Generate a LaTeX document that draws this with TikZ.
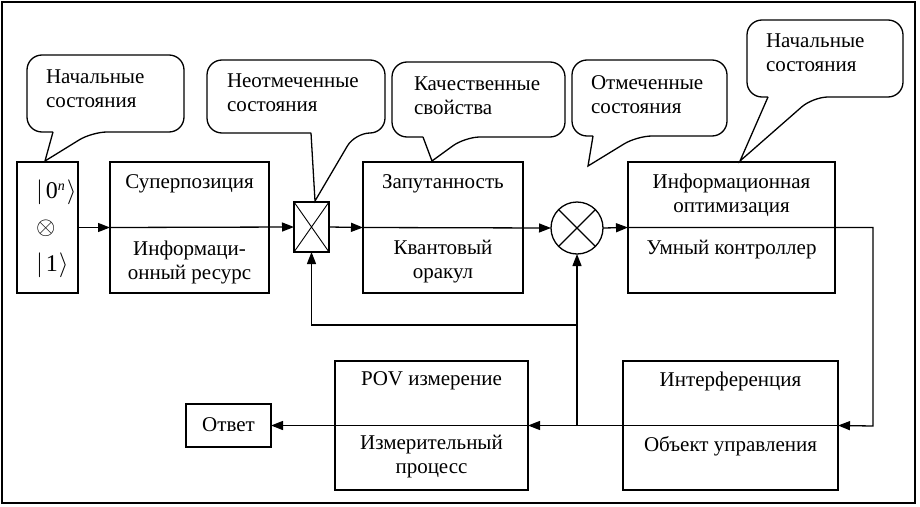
\documentclass[tikz,border=0pt]{standalone}
\usepackage{fontspec}
\setmainfont{Liberation Serif}
\usetikzlibrary{arrows.meta}
\begin{document}
\begin{tikzpicture}[x=1pt,y=-1pt,
  every node/.style={inner sep=0pt,outer sep=0pt},
  txt/.style={font=\fontsize{21}{24}\selectfont,align=center},
  ltxt/.style={font=\fontsize{21}{24}\selectfont,align=left,anchor=west},
  ket/.style={font=\fontsize{24}{24}\selectfont,anchor=west},
  blk/.style={draw,line width=1.3pt,rectangle},
  arr/.style={line width=1.3pt,-{Triangle[length=12pt,width=9pt]}},
  bub/.style={draw,line width=1.3pt,rounded corners=15pt}]
\useasboundingbox (0,0) rectangle (920,506);
\draw[line width=2.6pt] (2,2) rectangle (915,503);

% blocks
\node[blk,minimum width=61pt,minimum height=131pt] (init) at (47.5,227.5) {};
\node[blk,minimum width=159pt,minimum height=131pt] (sup) at (189.5,227.5) {};
\node[blk,minimum width=35pt,minimum height=50pt] (cross) at (311.5,227) {};
\node[blk,minimum width=160pt,minimum height=131pt] (ent) at (443,227.5) {};
\node[draw,line width=1.3pt,circle,minimum size=52pt] (circ) at (577,228) {};
\node[blk,minimum width=207pt,minimum height=131pt] (opt) at (731.5,227.5) {};
\node[blk,minimum width=215pt,minimum height=129pt] (int) at (730.5,425.5) {};
\node[blk,minimum width=193pt,minimum height=129pt] (pov) at (431.5,425.5) {};
\node[blk,minimum width=85pt,minimum height=43pt] (ans) at (228.5,425.5) {};

\draw[line width=0.9pt] (cross.north west) -- (cross.south east) (cross.north east) -- (cross.south west);
\draw[line width=1.1pt] (circ.north west) -- (circ.south east) (circ.north east) -- (circ.south west);

% texts in blocks
\node[ket] (k0) at (36,192) {$|$\kern3pt 0\raisebox{8pt}{\fontsize{14}{14}\selectfont\itshape n}\kern2pt$\rangle$};
\node[ket] (k1) at (36,228) {$\otimes$};
\node[ket] (k2) at (36,265) {$|$\kern3pt 1\kern1pt$\rangle$};
\node[txt] (t1) at (189.5,184) {Суперпозиция};
\node[txt] (t2) at (189.5,262) {Информаци-\\онный ресурс};
\node[txt] (t3) at (443,184) {Запутанность};
\node[txt] (t4) at (443,262) {Квантовый\\оракул};
\node[txt] (t5) at (731.5,195) {Информационная\\оптимизация};
\node[txt] (t6) at (731.5,250) {Умный контроллер};
\node[txt] (t7) at (730.5,381) {Интерференция};
\node[txt] (t8) at (730.5,446) {Объект управления};
\node[txt] (t9) at (431.5,381) {POV измерение};
\node[txt] (t10) at (431.5,457) {Измерительный\\процесс};
\node[txt] (t11) at (228.5,425) {Ответ};

% connectors
\coordinate (cr) at (873,426);
\coordinate (fb) at (577,426);
\coordinate (fb2) at (577,325);
\draw[arr] (init.east) -- (sup.west);
\draw[arr] (sup.west) -- (cross.west);
\draw[arr] (cross.east) -- (ent.west);
\draw[arr] (ent.west) -- (circ.west);
\draw[arr] (circ.east) -- (opt.west);
\draw[arr] (opt.west) -| (cr) -- (int.east);
\draw[arr] (int.east) -- (pov.east);
\draw[arr] (pov.east) -- (ans.east);
\draw[arr] (fb) -- (circ.south);
\draw[arr] (fb2) -| (cross.south);

% callouts
\draw[bub] (53,132) -- (27,132) -- (27,55) -- (184,55) -- (184,132) -- (92,132) [sharp corners] -- (45,161) -- (53,132);
\node[ltxt] (c1) at (46,89) {Начальные\\состояния};
\draw[bub] (311,133) -- (207,133) -- (207,60) -- (385,60) -- (385,133) -- (355,133) [sharp corners] -- (315,201) -- (311,133);
\node[ltxt] (c2) at (227,93) {Неотмеченные\\состояния};
\draw[bub] (423,137) -- (392,137) -- (392,62) -- (565,62) -- (565,137) -- (465,137) [sharp corners] -- (432,161) -- (423,137);
\node[ltxt] (c3) at (414,96) {Качественные\\свойства};
\draw[bub] (593,136) -- (572,136) -- (572,60) -- (727,60) -- (727,136) -- (637,136) [sharp corners] -- (588,166) -- (593,136);
\node[ltxt] (c4) at (591,95) {Отмеченные\\состояния};
\draw[bub] (768,97) -- (747,97) -- (747,20) -- (903,20) -- (903,97) -- (813,97) [sharp corners] -- (740,161) -- (768,97);
\node[ltxt] (c5) at (766,53) {Начальные\\состояния};
\end{tikzpicture}
\end{document}
